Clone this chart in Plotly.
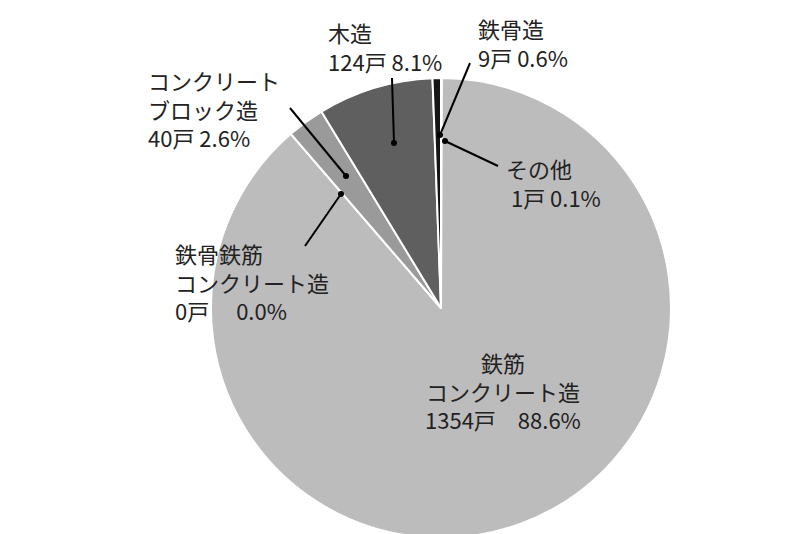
import plotly.graph_objects as go

labels = ["その他", "鉄筋コンクリート造", "鉄骨鉄筋コンクリート造", "コンクリートブロック造", "木造", "鉄骨造"]
values = [1, 1354, 0, 40, 124, 9]
colors = ["#c8c8c8", "#bcbcbc", "#ffffff", "#9a9a9a", "#5f5f5f", "#151515"]

W, H = 800, 534
cx, cy, r = 433, 300, 230

fig = go.Figure(go.Pie(
    labels=labels, values=values, sort=False, direction="clockwise", rotation=0,
    marker=dict(colors=colors, line=dict(color="white", width=2)),
    textinfo="none", hoverinfo="skip", showlegend=False,
    domain=dict(x=[(cx - r) / W, (cx + r) / W], y=[(H - cy - r) / H, (H - cy + r) / H]),
))

def px(x, y):
    return x / W, 1 - y / H

texts = [
    ("木造<br>124戸 8.1%", 318, 6, "left"),
    ("鉄骨造<br>9戸 0.6%", 468, 2, "left"),
    ("コンクリート<br>ブロック造<br>40戸 2.6%", 138, 54, "left"),
    ("その他<br> 1戸 0.1%", 496, 142, "left"),
    ("鉄骨鉄筋<br>コンクリート造<br>0戸　 0.0%", 165, 227, "left"),
    ("鉄筋<br>コンクリート造<br>1354戸　88.6%", 495, 336, "center"),
]
for t, x, y, al in texts:
    ax, ay = px(x, y)
    fig.add_annotation(text=t, x=ax, y=ay, xref="paper", yref="paper", showarrow=False,
                       xanchor="center" if al == "center" else "left", yanchor="top", align=al,
                       font=dict(size=22, color="#222", family="Noto Sans CJK JP"))

lines = [((386, 135), (384, 70)), ((432, 127), (462, 55)), ((437, 133), (490, 158)),
         ((338, 168), (282, 100)), ((333, 186), (297, 238))]
for (x0, y0), (x1, y1) in lines:
    a0, b0 = px(x0, y0); a1, b1 = px(x1, y1)
    fig.add_shape(type="line", x0=a0, y0=b0, x1=a1, y1=b1, xref="paper", yref="paper",
                  line=dict(color="black", width=2))
    fig.add_shape(type="circle", x0=(x0 - 3) / W, x1=(x0 + 3) / W, y0=1 - (y0 + 3) / H, y1=1 - (y0 - 3) / H,
                  xref="paper", yref="paper", fillcolor="black", line=dict(width=0))

fig.update_layout(width=W, height=H, margin=dict(l=0, r=0, t=0, b=0),
                  paper_bgcolor="white", plot_bgcolor="white")
fig.write_html("out.html")
